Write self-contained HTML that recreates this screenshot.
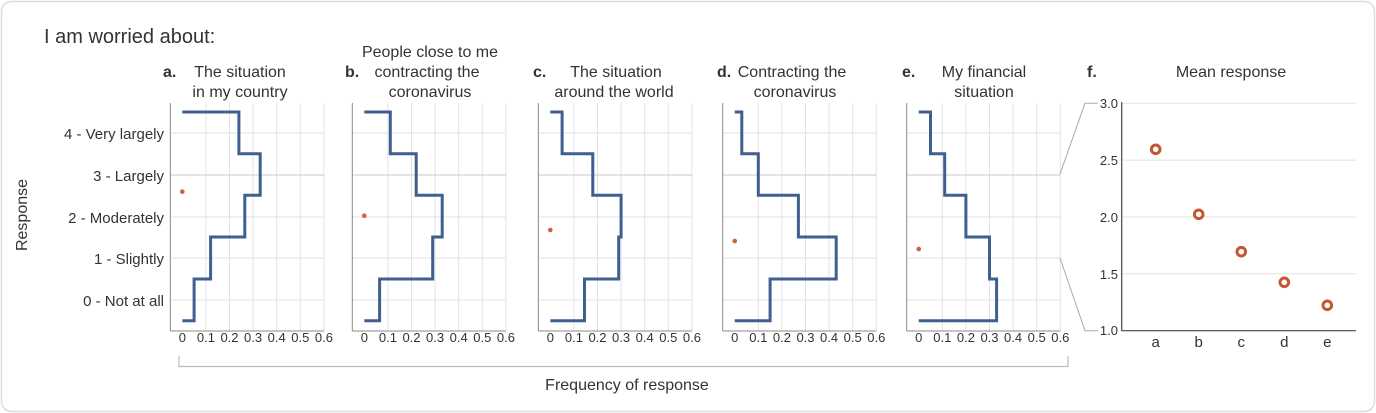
<!DOCTYPE html>
<html><head><meta charset="utf-8"><style>
html,body{margin:0;padding:0;background:#fff}
svg{display:block}
text{font-family:"Liberation Sans",sans-serif;fill:#333}
</style></head><body>
<svg width="1376" height="413" viewBox="0 0 1376 413" xmlns="http://www.w3.org/2000/svg">
<rect x="1.5" y="1.5" width="1373" height="410" rx="10" fill="#fff" stroke="#ddd" stroke-width="1.5"/>
<text x="44" y="43" font-size="20">I am worried about:</text>
<text x="27" y="215" font-size="16" text-anchor="middle" transform="rotate(-90 27 215)">Response</text>
<g font-size="15" text-anchor="end">
<text x="164" y="139">4 - Very largely</text>
<text x="164" y="181">3 - Largely</text>
<text x="164" y="223">2 - Moderately</text>
<text x="164" y="264">1 - Slightly</text>
<text x="164" y="306">0 - Not at all</text>
</g>
<!-- titles -->
<g font-size="16" text-anchor="middle">
<text x="163" y="77" font-weight="bold" text-anchor="start">a.</text>
<text x="240" y="77">The situation</text><text x="240" y="97">in my country</text>
<text x="345" y="77" font-weight="bold" text-anchor="start">b.</text>
<text x="430" y="57">People close to me</text><text x="427" y="77">contracting the</text><text x="430" y="97">coronavirus</text>
<text x="533" y="77" font-weight="bold" text-anchor="start">c.</text>
<text x="616" y="77">The situation</text><text x="614" y="97">around the world</text>
<text x="717" y="77" font-weight="bold" text-anchor="start">d.</text>
<text x="792" y="77">Contracting the</text><text x="795" y="97">coronavirus</text>
<text x="902" y="77" font-weight="bold" text-anchor="start">e.</text>
<text x="984" y="77">My financial</text><text x="984" y="97">situation</text>
<text x="1087" y="77" font-weight="bold" text-anchor="start">f.</text>
<text x="1231" y="77">Mean response</text>
</g>

<defs>
<g id="grid">
<g stroke="#e2e2e2" stroke-width="1">
<line x1="23.6" y1="103" x2="23.6" y2="331"/><line x1="47.2" y1="103" x2="47.2" y2="331"/>
<line x1="70.8" y1="103" x2="70.8" y2="331"/><line x1="94.4" y1="103" x2="94.4" y2="331"/>
<line x1="118" y1="103" x2="118" y2="331"/><line x1="141.6" y1="103" x2="141.6" y2="331"/>
<line x1="-12" y1="133" x2="141.6" y2="133"/><line x1="-12" y1="217" x2="141.6" y2="217"/>
<line x1="-12" y1="258" x2="141.6" y2="258"/><line x1="-12" y1="300" x2="141.6" y2="300"/>
</g>
<line x1="-12" y1="175" x2="141.6" y2="175" stroke="#c8c8c8"/>
<line x1="-12" y1="103" x2="-12" y2="331" stroke="#888"/>
<line x1="-12" y1="331" x2="141.6" y2="331" stroke="#888"/>
<g font-size="13" text-anchor="middle">
<text x="0" y="342">0</text><text x="23.6" y="342">0.1</text><text x="47.2" y="342">0.2</text><text x="70.8" y="342">0.3</text><text x="94.4" y="342">0.4</text><text x="118" y="342">0.5</text><text x="141.6" y="342">0.6</text>
</g>
</g>
</defs>
<use href="#grid" x="182.3"/>
<use href="#grid" x="364.3"/>
<use href="#grid" x="550.3"/>
<use href="#grid" x="734.7"/>
<use href="#grid" x="918.7"/>

<g fill="none" stroke="#3f5f8f" stroke-width="3">
<path d="M182.3,112H238.9V153.7H260.2V195.3H244.8V237H210.6V279H194.1V320.7H182.3"/>
<path d="M364.3,112H390.3V153.7H416.2V195.3H442.2V237H432.7V279H379.6V320.7H364.3"/>
<path d="M550.3,112H562.1V153.7H592.8V195.3H621.1V237H618.7V279H584.5V320.7H550.3"/>
<path d="M734.7,112H741.8V153.7H758.3V195.3H798.4V237H836.2V279H770.1V320.7H734.7"/>
<path d="M918.7,112H930.5V153.7H944.7V195.3H965.9V237H989.5V279H996.6V320.7H918.7"/>
</g>
<g fill="#d0603a">
<circle cx="182.3" cy="191.7" r="2.3"/><circle cx="364.3" cy="215.7" r="2.3"/>
<circle cx="550.3" cy="230" r="2.3"/><circle cx="734.7" cy="241" r="2.3"/>
<circle cx="918.7" cy="249" r="2.3"/>
</g>

<!-- bracket -->
<polyline points="179,356 179,366.5 1068,366.5 1068,356" fill="none" stroke="#bbb" stroke-width="1.2"/>
<text x="627" y="390" font-size="16" text-anchor="middle">Frequency of response</text>

<!-- connectors -->
<polyline points="1060,174 1085,103.3 1098,103.3" fill="none" stroke="#aaa" stroke-width="1"/>
<polyline points="1060,258 1085,330.7 1098,330.7" fill="none" stroke="#aaa" stroke-width="1"/>

<!-- panel f -->
<g stroke="#e2e2e2">
<line x1="1122" y1="103.3" x2="1356" y2="103.3"/><line x1="1122" y1="160.1" x2="1356" y2="160.1"/>
<line x1="1122" y1="217" x2="1356" y2="217"/><line x1="1122" y1="273.8" x2="1356" y2="273.8"/>
</g>
<line x1="1121.7" y1="102" x2="1121.7" y2="331" stroke="#444" stroke-width="1.2"/>
<line x1="1121.7" y1="330.7" x2="1356" y2="330.7" stroke="#444" stroke-width="1.2"/>
<g font-size="13" text-anchor="end">
<text x="1118" y="108">3.0</text><text x="1118" y="165">2.5</text><text x="1118" y="222">2.0</text><text x="1118" y="279">1.5</text><text x="1118" y="335">1.0</text>
</g>
<g font-size="15" text-anchor="middle">
<text x="1155.7" y="347">a</text><text x="1198.7" y="347">b</text><text x="1241.3" y="347">c</text><text x="1284.3" y="347">d</text><text x="1327.3" y="347">e</text>
</g>
<g fill="#fff" stroke="#c8552e" stroke-width="3">
<circle cx="1155.7" cy="149.3" r="4.3"/><circle cx="1198.7" cy="214.3" r="4.3"/>
<circle cx="1241.3" cy="251.7" r="4.3"/><circle cx="1284.3" cy="282.3" r="4.3"/>
<circle cx="1327.3" cy="305.3" r="4.3"/>
</g>
</svg>
</body></html>
